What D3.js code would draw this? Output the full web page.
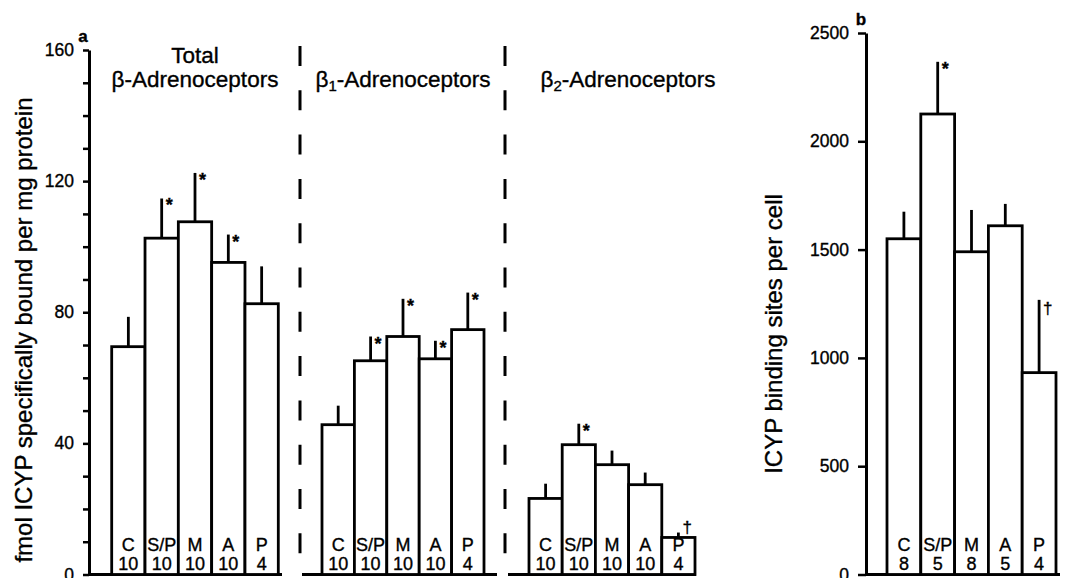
<!DOCTYPE html>
<html>
<head>
<meta charset="utf-8">
<script src="https://cdn.jsdelivr.net/npm/d3@7"></script>
<style>
body { margin: 0; background: #fff; }
svg { display: block; font-family: "Liberation Sans", Arial, Helvetica, sans-serif; }
svg text { fill: #000; stroke: #000; stroke-width: 0.35px; }
</style>
</head>
<body>
<svg id="chart" width="1074" height="578"></svg>
<script>
// ---- data ----
const categories = ["C", "S/P", "M", "A", "P"];

// panel a: fmol ICYP bound per mg protein (mean, mean + SEM)
const totalMean = [69.5, 102.6, 107.6, 95.2, 82.6];
const totalErr  = [78.6, 114.7, 122.5, 103.7, 94];
const totalN    = [10, 10, 10, 10, 4];
const totalMark = ["", "*", "*", "*", ""];

const beta1Mean = [45.7, 65.2, 72.6, 65.8, 74.7];
const beta1Err  = [51.5, 72.6, 84.1, 71.3, 86];
const beta1N    = [10, 10, 10, 10, 4];
const beta1Mark = ["", "*", "*", "*", "*"];

const beta2Mean = [23.2, 39.6, 33.5, 27.4, 11.3];
const beta2Err  = [27.7, 46, 37.8, 31.1, 12.8];
const beta2N    = [10, 10, 10, 10, 4];
const beta2Mark = ["", "*", "", "", "\u2020"];

// panel b: ICYP binding sites per cell
const cellMean = [1550, 2126, 1490, 1610, 932];
const cellErr  = [1675, 2367, 1683, 1711, 1268];
const cellN    = [8, 5, 8, 5, 4];
const cellMark = ["", "*", "", "", "\u2020"];

const aTicks = d3.range(0, 161, 10);
const aLabels = [0, 40, 80, 120, 160];
const bTicks = [0, 500, 1000, 1500, 2000, 2500];

// ---- layout ----
const svg = d3.select("#chart");
const baseY = 574.5;
const font = "\"Liberation Sans\", Arial, Helvetica, sans-serif";

const yA = d3.scaleLinear().domain([0, 160]).range([baseY, 50]);
const yB = d3.scaleLinear().domain([0, 2500]).range([baseY, 33]);

function drawAxis(scale, xPos, ticks, labels, tickLen, pad) {
	const axis = d3.axisLeft(scale)
		.tickValues(ticks)
		.tickSize(tickLen)
		.tickSizeOuter(0)
		.tickPadding(pad)
		.tickFormat(d => labels.includes(d) ? d : "");
	const g = svg.append("g")
		.attr("transform", "translate(" + xPos + ",0)")
		.call(axis);
	g.select(".domain").attr("stroke-width", 3);
	g.selectAll(".tick line").attr("stroke-width", 2.5);
	g.selectAll(".tick text")
		.attr("font-family", font)
		.attr("font-size", 17.5);
	return g;
}

function drawGroup(y, x0, x1, means, errs, ns, marks, lineEnd) {
	const x = d3.scaleBand().domain(categories).range([x0, x1]).padding(0);
	const bw = x.bandwidth();
	const g = svg.append("g");

	// baseline segment
	g.append("line")
		.attr("x1", lineEnd[0]).attr("x2", lineEnd[1])
		.attr("y1", y(0)).attr("y2", y(0))
		.attr("stroke", "#000").attr("stroke-width", 3);

	const rows = categories.map((c, i) => ({c: c, m: means[i], e: errs[i], n: ns[i], mark: marks[i]}));

	// error bars (upper only)
	g.selectAll(".err").data(rows).enter().append("line")
		.attr("x1", d => x(d.c) + bw / 2).attr("x2", d => x(d.c) + bw / 2)
		.attr("y1", d => y(d.m)).attr("y2", d => y(d.e))
		.attr("stroke", "#000").attr("stroke-width", 2.8);

	g.selectAll(".bar").data(rows).enter().append("rect")
		.attr("x", d => x(d.c)).attr("y", d => y(d.m))
		.attr("width", bw).attr("height", d => y(0) - y(d.m))
		.attr("fill", "#fff").attr("stroke", "#000").attr("stroke-width", 2.8);

	// category and n labels inside the bars
	g.selectAll(".cat").data(rows).enter().append("text")
		.attr("x", d => x(d.c) + bw / 2).attr("y", y(0) - 24)
		.attr("text-anchor", "middle")
		.attr("font-size", 18)
		.text(d => d.c);
	g.selectAll(".n").data(rows).enter().append("text")
		.attr("x", d => x(d.c) + bw / 2).attr("y", y(0) - 4.5)
		.attr("text-anchor", "middle")
		.attr("font-size", 18)
		.text(d => d.n);

	// significance marks
	g.selectAll(".mark").data(rows.filter(d => d.mark)).enter().append("text")
		.attr("x", d => x(d.c) + bw / 2 + 4)
		.attr("y", d => d.mark === "*" ? y(d.e) + 13 : Math.min(y(d.e) + 14, y(d.m) - 4))
		.attr("font-size", d => d.mark === "*" ? 18 : 17)
		.attr("font-weight", d => d.mark === "*" ? "bold" : "normal")
		.text(d => d.mark);
}

// ---- panel a ----
drawAxis(yA, 89, aTicks, aLabels, 6, 9);
drawGroup(yA, 111.7, 278.3, totalMean, totalErr, totalN, totalMark, [89, 282]);
drawGroup(yA, 322, 484, beta1Mean, beta1Err, beta1N, beta1Mark, [302, 497]);
drawGroup(yA, 529, 695, beta2Mean, beta2Err, beta2N, beta2Mark, [508, 696]);

// dashed separators
[300, 505].forEach(xp => {
	svg.append("line")
		.attr("x1", xp).attr("x2", xp)
		.attr("y1", 46).attr("y2", 570)
		.attr("stroke", "#000").attr("stroke-width", 3)
		.attr("stroke-dasharray", "20,24.3");
});

svg.append("text").attr("x", 83).attr("y", 42)
	.attr("text-anchor", "middle").attr("font-weight", "bold").attr("font-size", 17)
	.text("a");

const headings = svg.append("g").attr("font-size", 22.5).attr("text-anchor", "middle");
headings.append("text").attr("x", 195).attr("y", 63).text("Total");
headings.append("text").attr("x", 195).attr("y", 87).text("\u03b2-Adrenoceptors");
const h1 = headings.append("text").attr("x", 403).attr("y", 87);
h1.append("tspan").text("\u03b2");
h1.append("tspan").attr("font-size", 15).attr("dy", 4).text("1");
h1.append("tspan").attr("dy", -4).text("-Adrenoceptors");
const h2 = headings.append("text").attr("x", 628).attr("y", 87);
h2.append("tspan").text("\u03b2");
h2.append("tspan").attr("font-size", 15).attr("dy", 4).text("2");
h2.append("tspan").attr("dy", -4).text("-Adrenoceptors");

svg.append("text")
	.attr("transform", "translate(32,330) rotate(-90)")
	.attr("text-anchor", "middle").attr("font-size", 24)
	.text("fmol ICYP specifically bound per mg protein");

// ---- panel b ----
drawAxis(yB, 866, bTicks, bTicks, 8, 9);
drawGroup(yB, 887, 1056, cellMean, cellErr, cellN, cellMark, [866, 1060]);

svg.append("text").attr("x", 861).attr("y", 25)
	.attr("text-anchor", "middle").attr("font-weight", "bold").attr("font-size", 17)
	.text("b");

svg.append("text")
	.attr("transform", "translate(782,334) rotate(-90)")
	.attr("text-anchor", "middle").attr("font-size", 24)
	.text("ICYP binding sites per cell");
</script>
</body>
</html>
